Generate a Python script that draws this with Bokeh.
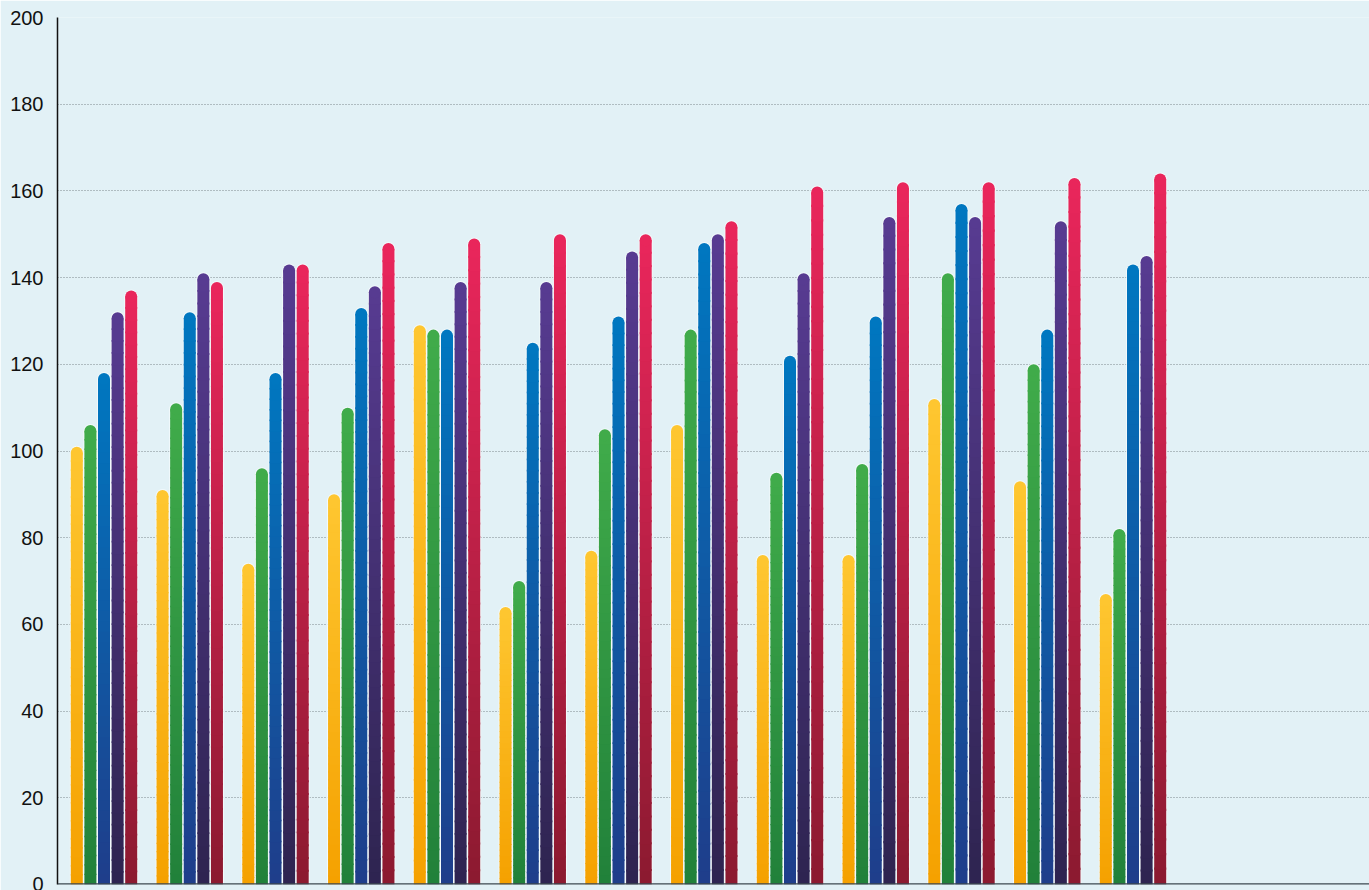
import numpy as np
from bokeh.plotting import figure
from bokeh.models import Range1d, Span, ColumnDataSource, FixedTicker
from bokeh.embed import file_html
from bokeh.resources import INLINE

# ---- data -------------------------------------------------------------
y_ticks = [0, 20, 40, 60, 80, 100, 120, 140, 160, 180, 200]
groups = list(range(13))

series_yellow = [101, 91, 74, 90, 129, 64, 77, 106, 76, 76, 112, 93, 67]
series_green = [106, 111, 96, 110, 128, 70, 105, 128, 95, 97, 141, 120, 82]
series_blue = [118, 132, 118, 133, 128, 125, 131, 148, 122, 131, 157, 128, 143]
series_purple = [132, 141, 143, 138, 139, 139, 146, 150, 141, 154, 154, 153, 145]
series_red = [137, 139, 143, 148, 149, 150, 150, 153, 161, 162, 162, 163, 164]

# (top colour, bottom colour) of each series' vertical gradient
series_colors = [
    ("#fec630", "#f5a100"),
    ("#40ab4a", "#21813a"),
    ("#0077c0", "#1f3d8a"),
    ("#573b91", "#2e2450"),
    ("#e9265b", "#8b1a30"),
]
all_series = [series_yellow, series_green, series_blue, series_purple, series_red]

# ---- figure -----------------------------------------------------------
W, H = 1369, 890
BORDER_L, BORDER_T, BORDER_B = 57, 17, 6
X0, X1 = -0.0423, 15.258
Y0, Y1 = 0, 200

p = figure(width=W, height=H, output_backend="svg", toolbar_location=None,
           title=None, x_range=Range1d(X0, X1), y_range=Range1d(Y0, Y1),
           min_border_left=BORDER_L, min_border_right=0,
           min_border_top=BORDER_T, min_border_bottom=BORDER_B)

bg = "#e2f1f6"
p.background_fill_color = bg
p.border_fill_color = bg
p.outline_line_color = None

frame_w = W - BORDER_L
frame_h = H - BORDER_T - BORDER_B
px_x = frame_w / (X1 - X0)
px_y = frame_h / (Y1 - Y0)

bar_px = 12.0
pitch_px = 13.6
bar_w = bar_px / px_x
pitch = pitch_px / px_x
cap_r = (bar_px / 2) / px_y


def hex_rgb(h):
    h = h.lstrip("#")
    return np.array([int(h[i:i + 2], 16) for i in (0, 2, 4)], dtype=float)


def rgb_hex(c):
    c = np.clip(np.round(c), 0, 255).astype(int)
    return "#%02x%02x%02x" % tuple(c)


N = 48
rim = dict(x=[], top=[])
sl = dict(left=[], right=[], bottom=[], top=[], color=[])
caps = dict(x=[], y=[], color=[])

for j, (vals, (c_top, c_bot)) in enumerate(zip(all_series, series_colors)):
    ct, cb = hex_rgb(c_top), hex_rgb(c_bot)
    for g, v in zip(groups, vals):
        xc = g + 0.5 + (j - 2) * pitch
        body_top = v - cap_r
        rim["x"].append(xc)
        rim["top"].append(body_top)
        edges = np.linspace(0, body_top, N + 1)
        h = edges[1] - edges[0]
        for k in range(N):
            t = (k + 0.5) / N
            sl["left"].append(xc - bar_w / 2)
            sl["right"].append(xc + bar_w / 2)
            sl["bottom"].append(edges[k])
            sl["top"].append(min(edges[k + 1] + h * 0.15, body_top))
            sl["color"].append(rgb_hex(cb + (ct - cb) * t))
        caps["x"].append(xc)
        caps["y"].append(body_top)
        caps["color"].append(c_top)

# pale rim around every bar
rim_color = "#f4fafc"
p.vbar(x="x", top="top", bottom=0, width=(bar_px + 2) / px_x,
       source=ColumnDataSource(rim), fill_color=rim_color, line_color=None,
       fill_alpha=0.85)
p.scatter(x="x", y="top", source=ColumnDataSource(rim), marker="circle",
          size=bar_px + 2, fill_color=rim_color, line_color=None, fill_alpha=0.85)

# gradient bodies and rounded tops
p.quad(left="left", right="right", bottom="bottom", top="top",
       source=ColumnDataSource(sl), fill_color="color", line_color=None)
p.scatter(x="x", y="y", source=ColumnDataSource(caps), marker="circle",
          size=bar_px, fill_color="color", line_color=None)

# ---- axes & grid ------------------------------------------------------
p.xaxis.visible = False
p.xgrid.visible = False

p.ygrid.ticker = FixedTicker(ticks=y_ticks)
p.ygrid.grid_line_color = "#7d878c"
p.ygrid.grid_line_dash = "1 2"
p.ygrid.grid_line_width = 1

ax = p.yaxis[0]
ax.ticker = FixedTicker(ticks=y_ticks)
ax.major_label_text_font = "Liberation Sans"
ax.major_label_text_font_size = "20px"
ax.major_label_text_color = "#111111"
ax.major_tick_line_color = None
ax.minor_tick_line_color = None
ax.major_tick_out = 0
ax.major_tick_in = 0
ax.major_label_standoff = 14
ax.axis_line_color = "#111111"
ax.axis_line_width = 1.5

p.add_layout(Span(location=0, dimension="width", line_color="#3b474f",
                  line_width=2.5))

open("out.html", "w").write(file_html(p, INLINE))
